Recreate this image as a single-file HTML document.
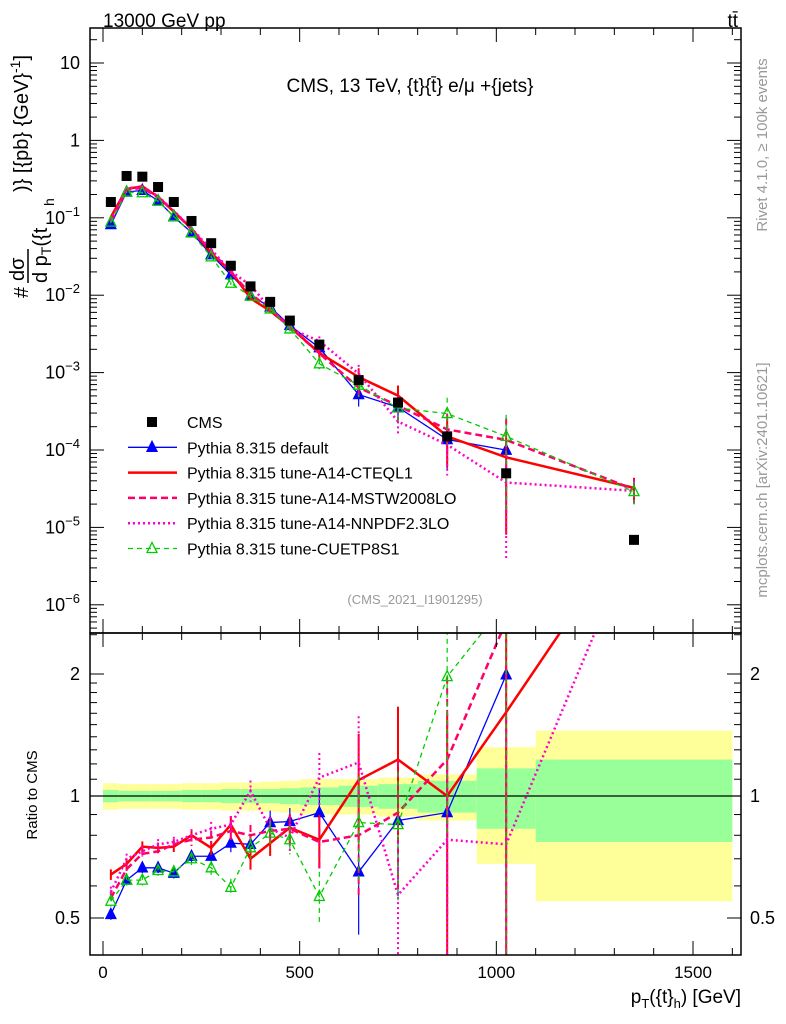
<!DOCTYPE html>
<html><head><meta charset="utf-8"><style>
html,body{margin:0;background:#fff;overflow:hidden;width:786px;height:1024px}
svg{display:block}
svg text{font-family:"Liberation Sans",sans-serif}
</style></head><body>
<svg id="c" width="786" height="1024" xmlns="http://www.w3.org/2000/svg">
<g id="bands"></g>
<g id="marks"></g>
<g id="axes"></g>
<text x="103" y="27" font-size="19">13000 GeV pp</text>
<text x="738" y="27" font-size="19" text-anchor="end">tt̄</text>
<text x="410" y="92" font-size="19" text-anchor="middle">CMS, 13 TeV, {t}{t̄} e/μ +{jets}</text>
<text x="415" y="604" font-size="13" fill="#999" text-anchor="middle">(CMS_2021_I1901295)</text>
<text transform="translate(767,145) rotate(-90)" font-size="15" fill="#999" text-anchor="middle">Rivet 4.1.0, ≥ 100k events</text>
<text transform="translate(767,480) rotate(-90)" font-size="15" fill="#999" text-anchor="middle">mcplots.cern.ch [arXiv:2401.10621]</text>
<g transform="translate(30,298) rotate(-90)">
<text x="0" y="-2" font-size="20">#</text>
<text x="17" y="-6" font-size="20">dσ</text>
<line x1="15" x2="49" y1="-2" y2="-2" stroke="#000" stroke-width="1.5"/>
<text x="15" y="17" font-size="20">d p<tspan font-size="14" dy="4">T</tspan><tspan dy="-4">({t</tspan></text>
<text x="92" y="24" font-size="14">h</text>
<text x="106" y="-2" font-size="20">)} [{pb} {GeV}<tspan font-size="14" dy="-8">-1</tspan><tspan dy="8">]</tspan></text>
</g>
<text transform="translate(37,795) rotate(-90)" font-size="15" text-anchor="middle">Ratio to CMS</text>
<text x="741" y="1003" font-size="19" text-anchor="end">p<tspan font-size="13" dy="5">T</tspan><tspan dy="-5">({t}</tspan><tspan font-size="13" dy="5">h</tspan><tspan dy="-5">) [GeV]</tspan></text>
<g id="legend"></g>
</svg>
<script>
const binLo = [0,40,80,120,160,200,250,300,350,400,450,500,600,700,800,950,1100];
const binHi = [40,80,120,160,200,250,300,350,400,450,500,600,700,800,950,1100,1600];
const xCenters = [20,60,100,140,180,225,275,325,375,425,475,550,650,750,875,1025,1350];
const cmsValues = [0.16,0.347,0.34,0.25,0.16,0.091,0.047,0.024,0.013,0.0082,0.0047,0.0023,0.0008,0.00041,0.00015,0.00005,0.0000069];
const cmsStatRel = [0.035,0.03,0.03,0.03,0.03,0.035,0.035,0.04,0.04,0.04,0.045,0.05,0.06,0.07,0.09,0.17,0.23];
const cmsTotRel = [0.075,0.07,0.07,0.07,0.07,0.075,0.075,0.08,0.08,0.085,0.09,0.1,0.1,0.11,0.13,0.32,0.45];
const ratioDefault = [0.51,0.62,0.665,0.665,0.645,0.71,0.71,0.765,0.76,0.86,0.865,0.91,0.65,0.87,0.91,1.99,null];
const ratioCTEQ = [0.64,0.68,0.75,0.745,0.75,0.80,0.745,0.85,0.70,0.765,0.835,0.78,1.095,1.23,1.0,1.61,4.7];
const ratioMSTW = [0.56,0.66,0.72,0.73,0.76,0.78,0.79,0.82,0.80,0.82,0.83,0.77,0.80,0.91,1.23,2.7,4.5];
const ratioNNPDF = [0.58,0.70,0.73,0.76,0.77,0.80,0.83,0.85,1.03,0.83,0.79,1.11,1.21,0.57,0.78,0.76,4.3];
const ratioCUET = [0.55,0.62,0.62,0.655,0.65,0.70,0.665,0.595,0.745,0.81,0.78,0.565,0.86,0.85,1.97,3.0,4.2];
const errRel = [0.03,0.03,0.03,0.03,0.03,0.035,0.04,0.05,0.06,0.07,0.08,0.15,0.3,0.35,0.6,0.9,0.35];
const xTicks = [0,500,1000,1500];
const topTicks = [1,0,-1,-2,-3,-4,-5,-6];
const ratioTicks = [0.5,1,2];

const NS="http://www.w3.org/2000/svg";
const L=90,R=741,T=28,M=633,B=955;
const X=v=>103+v*(590/1500);
const YT=v=>63+(1-Math.log10(v))*77.4;
const YR=v=>796-Math.log2(v)*122;
function mk(p,tag,a){const e=document.createElementNS(NS,tag);for(const k in a)e.setAttribute(k,a[k]);p.appendChild(e);return e;}
const bands=document.getElementById('bands'),marks=document.getElementById('marks'),axes=document.getElementById('axes'),leg=document.getElementById('legend');
binLo.forEach((lo,i)=>{
  const x1=X(lo),x2=Math.min(X(binHi[i]),R);
  let y1=Math.max(YR(1+cmsTotRel[i]),M),y2=Math.min(YR(1-cmsTotRel[i]),B);
  let r=mk(bands,'rect',{x:x1,y:y1,width:x2-x1,height:y2-y1,fill:'#ffff99'});
  
  
  y1=YR(1+cmsStatRel[i]);y2=YR(1-cmsStatRel[i]);
  r=mk(bands,'rect',{x:x1,y:y1,width:x2-x1,height:y2-y1,fill:'#99ff99'});
  
  
});
let ln=mk(bands,'line',{x1:L,x2:R,y1:YR(1),y2:YR(1),stroke:'#000','stroke-width':1.2});


const defs=mk(document.getElementById('c'),'defs',{});
const cp1=mk(defs,'clipPath',{id:'ct'});mk(cp1,'rect',{x:L,y:T,width:R-L,height:M-T});
const cp2=mk(defs,'clipPath',{id:'cr'});mk(cp2,'rect',{x:L,y:M,width:R-L,height:B-M});
const gTop=mk(marks,'g',{'clip-path':'url(#ct)'}),gRat=mk(marks,'g',{'clip-path':'url(#cr)'});
const series=[
 {name:'default',r:ratioDefault,col:'#0000ff',w:1.3,dash:'',mk:'tri'},
 {name:'cteq',r:ratioCTEQ,col:'#ff0000',w:2.5,dash:'',mk:'none'},
 {name:'mstw',r:ratioMSTW,col:'#ff0066',w:2.5,dash:'7 4',mk:'none'},
 {name:'nnpdf',r:ratioNNPDF,col:'#ff00cc',w:2.5,dash:'2 3',mk:'none'},
 {name:'cuet',r:ratioCUET,col:'#00cc00',w:1.3,dash:'5 4',mk:'otri'}];
function tri(g,x,y,c,fill){return mk(g,'path',{d:`M${x-5},${y+4}L${x+5},${y+4}L${x},${y-6}Z`,fill:fill?c:'#fff','fill-opacity':fill?1:0,stroke:c,'stroke-width':1.3});}
series.forEach(s=>{
  [['top',gTop],['ratio',gRat]].forEach(([pan,g])=>{
    const yf=pan==='top'?(i=>YT(cmsValues[i]*s.r[i])):(i=>YR(s.r[i]));
    const pts=[];
    xCenters.forEach((xc,i)=>{if(s.r[i]!=null)pts.push([X(xc),yf(i),i]);});
    const pl=mk(g,'polyline',{points:pts.map(p=>p[0]+','+p[1]).join(' '),fill:'none',stroke:s.col,'stroke-width':s.w,'stroke-dasharray':s.dash});
    
    
    pts.forEach(([x,y,i])=>{
      const v=s.r[i],e=errRel[i]*v;
      let ya,yb;
      if(pan==='top'){ya=YT(cmsValues[i]*(v+e));yb=YT(Math.max(cmsValues[i]*(v-e),1e-9));}
      else{ya=YR(v+e);yb=YR(Math.max(v-e,0.01));}
      const eb=mk(g,'line',{x1:x,x2:x,y1:ya,y2:yb,stroke:s.col,'stroke-width':s.w>2?2:1.2,'stroke-dasharray':s.dash});
      
      
      if(s.mk!=='none'){const m=tri(g,x,y,s.col,s.mk==='tri');
        
        }
    });
  });
});
cmsValues.forEach((v,i)=>{
  const r=mk(gTop,'rect',{x:X(xCenters[i])-5,y:YT(v)-5,width:10,height:10,fill:'#000'});
  
  
});
[[T,M],[M,B]].forEach(([a,b])=>{const f=mk(axes,'rect',{x:L,y:a,width:R-L,height:b-a,fill:'none',stroke:'#000','stroke-width':1.5});
 
 });
for(let v=0;v<=1600;v+=100){const maj=v%500===0,len=maj?14:7,x=X(v);
 [[M,M-len],[T,T+len],[B,B-len],[M,M+len]].forEach(([a,b])=>mk(axes,'line',{x1:x,x2:x,y1:a,y2:b,stroke:'#000','stroke-width':1}));}
xTicks.forEach(v=>{const t=mk(axes,'text',{x:X(v),y:978,'font-size':17,'text-anchor':'middle'});t.textContent=v;
 
 });
for(let d=-7;d<=1;d++){for(let k=1;k<10;k++){const y=YT(k*Math.pow(10,d));if(y<T||y>M)continue;const len=k===1?14:7;
 mk(axes,'line',{x1:L,x2:L+len,y1:y,y2:y,stroke:'#000'});mk(axes,'line',{x1:R,x2:R-len,y1:y,y2:y,stroke:'#000'});}}
topTicks.forEach(d=>{const y=YT(Math.pow(10,d));const t=mk(axes,'text',{x:80,y:y+6,'font-size':18,'text-anchor':'end'});
 if(d===1)t.textContent='10';else if(d===0)t.textContent='1';else{t.textContent='10';const s=mk(t,'tspan',{dy:-8,'font-size':13});s.textContent='−'+(-d);}
 
 });
[0.4,0.5,0.6,0.7,0.8,0.9,1,1.1,1.2,1.3,1.4,1.5,1.6,1.7,1.8,1.9,2,2.5].forEach(v=>{const y=YR(v);if(y<M||y>B)return;const len=(v===0.5||v===1||v===2)?14:7;
 mk(axes,'line',{x1:L,x2:L+len,y1:y,y2:y,stroke:'#000'});mk(axes,'line',{x1:R,x2:R-len,y1:y,y2:y,stroke:'#000'});});
ratioTicks.forEach(v=>{[[80,'end'],[750,'start']].forEach(([x,a])=>{const t=mk(axes,'text',{x:x,y:YR(v)+6,'font-size':18,'text-anchor':a});t.textContent=v;
 
 });});
const legNames=['CMS','Pythia 8.315 default','Pythia 8.315 tune-A14-CTEQL1','Pythia 8.315 tune-A14-MSTW2008LO','Pythia 8.315 tune-A14-NNPDF2.3LO','Pythia 8.315 tune-CUETP8S1'];
legNames.forEach((n,i)=>{const y=422+i*25.3;const g=mk(leg,'g',{});
 
 
 if(i===0)mk(g,'rect',{x:147,y:y-5,width:10,height:10,fill:'#000'});
 else{const s=series[i-1];mk(g,'line',{x1:128,x2:177,y1:y,y2:y,stroke:s.col,'stroke-width':s.w,'stroke-dasharray':s.dash});
  if(s.mk!=='none')tri(g,152,y,s.col,s.mk==='tri');}
 const t=mk(g,'text',{x:187,y:y+6,'font-size':16});t.textContent=n;});
</script>
</body></html>
